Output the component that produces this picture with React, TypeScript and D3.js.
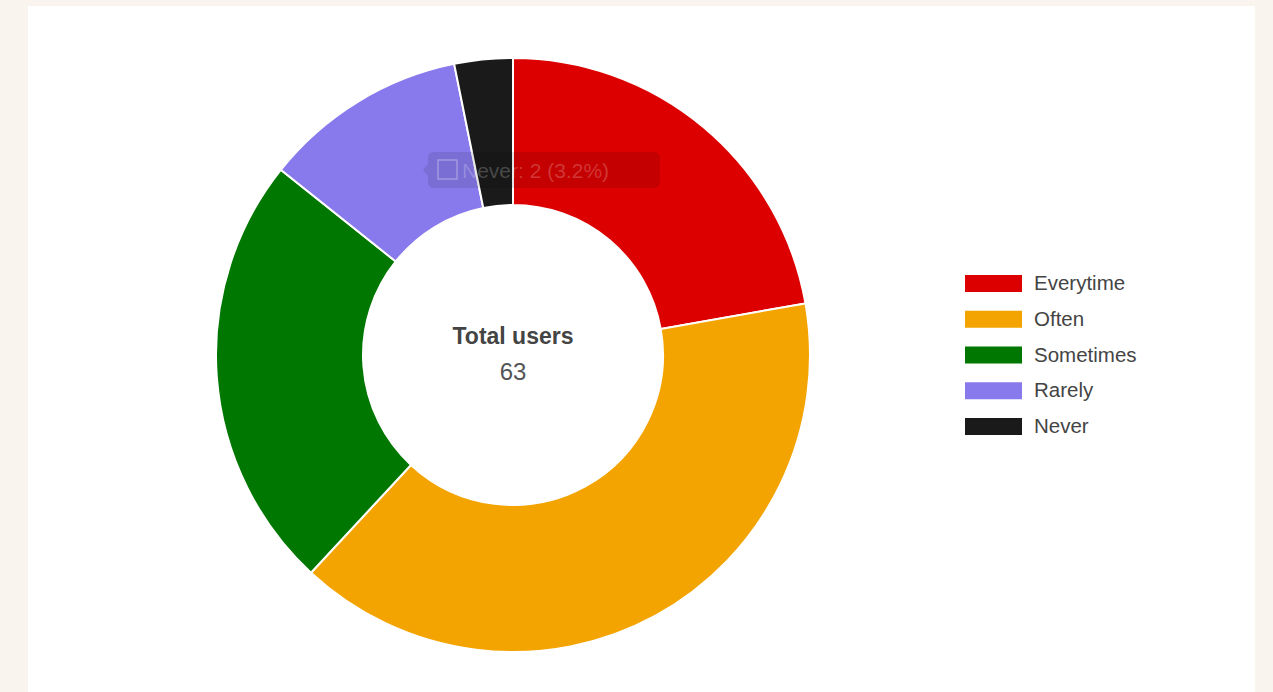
import * as React from 'react';
import * as d3 from 'd3';

const categories = ['Everytime', 'Often', 'Sometimes', 'Rarely', 'Never'];
const counts = [14, 25, 15, 7, 2];
const colors = ['#dc0000', '#f4a400', '#007700', '#887aec', '#1a1a1a'];
const centerTitle = 'Total users';

const W = 1273;
const H = 692;
const cx = 513;
const cy = 355;
const outerR = 297;
const innerR = 150;

export default function App() {
    const total = d3.sum(counts);
    const pie = d3.pie<number>().sort(null).value(d => d);
    const arcs = pie(counts);
    const arc = d3.arc<d3.PieArcDatum<number>>().innerRadius(innerR).outerRadius(outerR);

    const legendY = d3.scalePoint<string>().domain(categories).range([283, 426]);

    // faded tooltip left over from hovering the "Never" slice
    const tipIdx = 4;
    const tipText = categories[tipIdx] + ': ' + counts[tipIdx] + ' (' + d3.format('.1f')(counts[tipIdx] / total * 100) + '%)';

    return (
        <svg width={W} height={H} style={{position: 'absolute', left: 0, top: 0}}
             fontFamily="Arial, 'Liberation Sans', sans-serif">
            <rect x={0} y={0} width={W} height={H} fill="#f9f4ee"/>
            <rect x={28} y={6} width={1227} height={H - 6} fill="#ffffff"/>
            <g transform={`translate(${cx},${cy})`}>
                {arcs.map((a, i) => (
                    <path key={categories[i]} d={arc(a) || ''} fill={colors[i]} stroke="#fff" strokeWidth={2}/>
                ))}
                <text x={0} y={-11} textAnchor="middle" fontSize={23} fontWeight="bold" fill="#444">{centerTitle}</text>
                <text x={0} y={25} textAnchor="middle" fontSize={24} fill="#555">{total}</text>
            </g>
            <g>
                <path d="M428,158 Q428,152 434,152 L654,152 Q660,152 660,158 L660,182 Q660,188 654,188 L434,188 Q428,188 428,182 L428,176 L423,170 L428,164 Z"
                      fill="#000" fillOpacity={0.1}/>
                <rect x={438} y={160} width={19} height={19} fill="none" stroke="#fff" strokeOpacity={0.3} strokeWidth={1.5}/>
                <text x={462} y={178} fontSize={21} fill="#fff" fillOpacity={0.22}>{tipText}</text>
            </g>
            <g>
                {categories.map((c, i) => (
                    <g key={c} transform={`translate(965,${legendY(c)})`}>
                        <rect x={0} y={-8} width={57} height={17} fill={colors[i]}/>
                        <text x={69} y={7} fontSize={20.5} fill="#444">{c}</text>
                    </g>
                ))}
            </g>
        </svg>
    );
}
